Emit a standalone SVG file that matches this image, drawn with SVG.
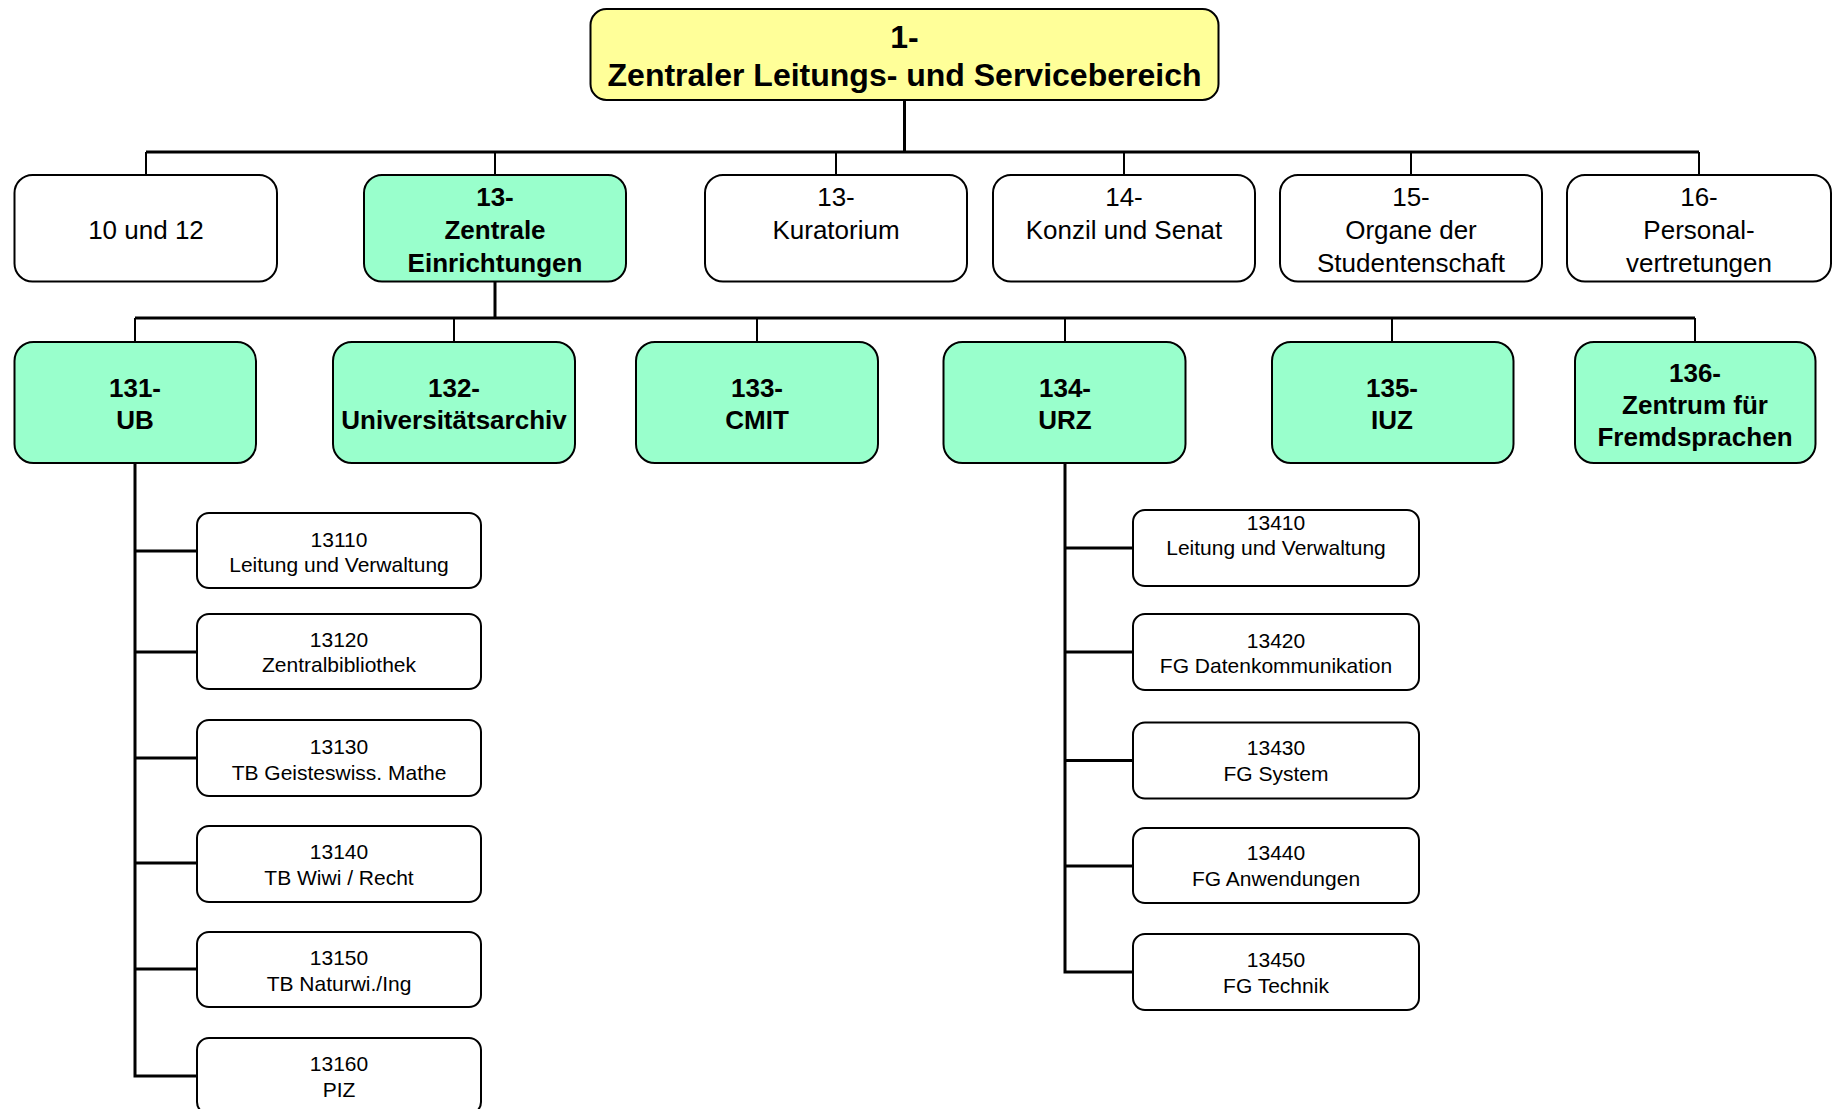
<svg xmlns="http://www.w3.org/2000/svg" width="1834" height="1109" viewBox="0 0 1834 1109">
<style>
text{font-family:"Liberation Sans",Arial,sans-serif;fill:#000;text-anchor:middle}
.box{stroke:#000;stroke-width:2}
.white{fill:#fff}
.green{fill:#99ffcc}
.yellow{fill:#ffff99}
.t1{font-size:32px;font-weight:bold}
.t2{font-size:26px}
.t2b{font-size:26px;font-weight:bold}
.t3{font-size:21px}
.heavy{stroke:#000;stroke-width:3;fill:none}
.thin{stroke:#000;stroke-width:2;fill:none}
</style>
<rect width="1834" height="1109" fill="#fff"/>
<g id="connectors">
<path class="heavy" d="M904.5 100V152M146 152H1699"/>
<path class="thin" d="M146 152V175M495 152V175M836 152V175M1124 152V175M1411 152V175M1699 152V175"/>
<path class="heavy" d="M495 281V318M135 318H1695"/>
<path class="thin" d="M135 318V342M454 318V342M757 318V342M1065 318V342M1392 318V342M1695 318V342"/>
<path class="heavy" d="M135 463V1076H197M135 551H197M135 652H197M135 758H197M135 863H197M135 969H197"/>
<path class="heavy" d="M1065 463V972H1133M1065 548H1133M1065 652H1133M1065 760.5H1133M1065 866H1133"/>
</g>
<g id="n1"><rect class="box yellow" x="590.5" y="9" width="628" height="91" rx="16"/><text class="t1" x="904.5" y="48">1-</text><text class="t1" x="904.5" y="86">Zentraler Leitungs- und Servicebereich</text></g>
<g id="n10"><rect class="box white" x="14.5" y="175" width="262.5" height="106.5" rx="18"/><text class="t2" x="146" y="239">10 und 12</text></g>
<g id="n13ze"><rect class="box green" x="364" y="175" width="262" height="106.5" rx="18"/><text class="t2b" x="495" y="206">13-</text><text class="t2b" x="495" y="239">Zentrale</text><text class="t2b" x="495" y="271.5">Einrichtungen</text></g>
<g id="n13k"><rect class="box white" x="705" y="175" width="262" height="106.5" rx="18"/><text class="t2" x="836" y="206">13-</text><text class="t2" x="836" y="239">Kuratorium</text></g>
<g id="n14"><rect class="box white" x="993" y="175" width="262" height="106.5" rx="18"/><text class="t2" x="1124" y="206">14-</text><text class="t2" x="1124" y="239">Konzil und Senat</text></g>
<g id="n15"><rect class="box white" x="1280" y="175" width="262" height="106.5" rx="18"/><text class="t2" x="1411" y="206">15-</text><text class="t2" x="1411" y="239">Organe der</text><text class="t2" x="1411" y="271.5">Studentenschaft</text></g>
<g id="n16"><rect class="box white" x="1567" y="175" width="264" height="106.5" rx="18"/><text class="t2" x="1699" y="206">16-</text><text class="t2" x="1699" y="239">Personal-</text><text class="t2" x="1699" y="271.5">vertretungen</text></g>
<g id="n131"><rect class="box green" x="14.5" y="342" width="241.5" height="121" rx="19"/><text class="t2b" x="135" y="397">131-</text><text class="t2b" x="135" y="429">UB</text></g>
<g id="n132"><rect class="box green" x="333" y="342" width="242" height="121" rx="19"/><text class="t2b" x="454" y="397">132-</text><text class="t2b" x="454" y="429">Universitätsarchiv</text></g>
<g id="n133"><rect class="box green" x="636" y="342" width="242" height="121" rx="19"/><text class="t2b" x="757" y="397">133-</text><text class="t2b" x="757" y="429">CMIT</text></g>
<g id="n134"><rect class="box green" x="943.5" y="342" width="242" height="121" rx="19"/><text class="t2b" x="1065" y="397">134-</text><text class="t2b" x="1065" y="429">URZ</text></g>
<g id="n135"><rect class="box green" x="1272" y="342" width="241.5" height="121" rx="19"/><text class="t2b" x="1392" y="397">135-</text><text class="t2b" x="1392" y="429">IUZ</text></g>
<g id="n136"><rect class="box green" x="1575" y="342" width="240.5" height="121" rx="19"/><text class="t2b" x="1695" y="381.5">136-</text><text class="t2b" x="1695" y="413.5">Zentrum für</text><text class="t2b" x="1695" y="446">Fremdsprachen</text></g>
<g id="n13110"><rect class="box white" x="197" y="513" width="284" height="75" rx="12"/><text class="t3" x="339" y="547">13110</text><text class="t3" x="339" y="572">Leitung und Verwaltung</text></g>
<g id="n13120"><rect class="box white" x="197" y="614" width="284" height="75" rx="12"/><text class="t3" x="339" y="647">13120</text><text class="t3" x="339" y="672">Zentralbibliothek</text></g>
<g id="n13130"><rect class="box white" x="197" y="720" width="284" height="76" rx="12"/><text class="t3" x="339" y="754">13130</text><text class="t3" x="339" y="779.5">TB Geisteswiss. Mathe</text></g>
<g id="n13140"><rect class="box white" x="197" y="826" width="284" height="76" rx="12"/><text class="t3" x="339" y="858.5">13140</text><text class="t3" x="339" y="884.5">TB Wiwi / Recht</text></g>
<g id="n13150"><rect class="box white" x="197" y="932" width="284" height="75" rx="12"/><text class="t3" x="339" y="965">13150</text><text class="t3" x="339" y="991">TB Naturwi./Ing</text></g>
<g id="n13160"><rect class="box white" x="197" y="1038" width="284" height="76" rx="12"/><text class="t3" x="339" y="1071">13160</text><text class="t3" x="339" y="1097">PIZ</text></g>
<g id="n13410"><rect class="box white" x="1133" y="510" width="286" height="76" rx="12"/><text class="t3" x="1276" y="530">13410</text><text class="t3" x="1276" y="555">Leitung und Verwaltung</text></g>
<g id="n13420"><rect class="box white" x="1133" y="614" width="286" height="76" rx="12"/><text class="t3" x="1276" y="648">13420</text><text class="t3" x="1276" y="673">FG Datenkommunikation</text></g>
<g id="n13430"><rect class="box white" x="1133" y="722.5" width="286" height="76" rx="12"/><text class="t3" x="1276" y="755">13430</text><text class="t3" x="1276" y="781">FG System</text></g>
<g id="n13440"><rect class="box white" x="1133" y="828" width="286" height="75" rx="12"/><text class="t3" x="1276" y="860">13440</text><text class="t3" x="1276" y="886">FG Anwendungen</text></g>
<g id="n13450"><rect class="box white" x="1133" y="934" width="286" height="76" rx="12"/><text class="t3" x="1276" y="967">13450</text><text class="t3" x="1276" y="993">FG Technik</text></g>
</svg>
